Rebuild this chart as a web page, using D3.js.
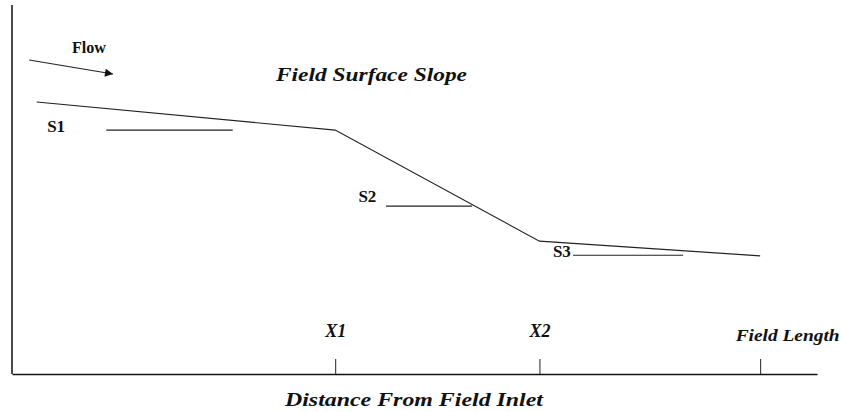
<!DOCTYPE html>
<html>
<head>
<meta charset="utf-8">
<script src="https://cdn.jsdelivr.net/npm/d3@7"></script>
<style>
  html, body { margin: 0; padding: 0; background: #fff; }
  svg { display: block; }
</style>
</head>
<body>
<script>
// ---- data (distance units along field, elevation units) ----
const profileDistance = [3.3, 43.2, 70.5, 100];
const profileElevation = [73.7, 66.1, 36.0, 32.0];

const slopeLabels = ["S1", "S2", "S3"];
const slopeStart = [12.6, 50.0, 75.0];
const slopeEnd = [29.5, 61.5, 89.7];
const slopeElevation = [66.1, 45.5, 32.2];
const slopeLabelAt = [4.7, 46.3, 72.3];
const slopeLabelElevation = [65.6, 46.5, 31.7];

const tickLabels = ["X1", "X2", "Field Length"];
const tickValues = [43.2, 70.5, 100];

const flowDistance = [2.3, 13.5];
const flowElevation = [85.1, 81.3];

const titleText = "Field Surface Slope";
const xTitleText = "Distance From Field Inlet";
const flowText = "Flow";

const SERIF = "'Liberation Serif', 'Times New Roman', Tinos, 'DejaVu Serif', serif";

// ---- layout ----
const W = 841, H = 412;
const svg = d3.select("body").append("svg").attr("width", W).attr("height", H);

const x = d3.scaleLinear().domain([0, 107.6]).range([12, 817]);
const y = d3.scaleLinear().domain([0, 100]).range([374, 5]);

svg.append("defs").append("marker")
  .attr("id", "arrow").attr("viewBox", "0 0 10 10")
  .attr("refX", 10).attr("refY", 5)
  .attr("markerWidth", 12).attr("markerHeight", 8)
  .attr("markerUnits", "userSpaceOnUse")
  .attr("orient", "auto")
  .append("path").attr("d", "M0,0L10,5L0,10Z").attr("fill", "#111");

// y axis line
svg.append("line")
  .attr("x1", x(0)).attr("x2", x(0))
  .attr("y1", y(100)).attr("y2", y(0))
  .attr("stroke", "#111").attr("stroke-width", 1.5);

// x axis (ticks pointing up, labels above)
const xAxis = d3.axisTop(x)
  .tickValues(tickValues)
  .tickFormat((d, i) => tickLabels[i])
  .tickSizeInner(15).tickSizeOuter(0).tickPadding(22);

const gx = svg.append("g").attr("transform", `translate(0,${y(0)})`).call(xAxis);
gx.attr("font-family", null);
gx.select(".domain").attr("stroke", "#111").attr("stroke-width", 1.5);
gx.selectAll(".tick line").attr("stroke", "#222");
gx.selectAll(".tick text")
  .style("font-family", SERIF)
  .style("font-weight", "bold").style("font-style", "italic")
  .style("font-size", "18px").attr("fill", "#111");
gx.selectAll(".tick text").filter((d, i) => i === 2)
  .style("font-size", "16px")
  .attr("text-anchor", "start").attr("x", -25).attr("dy", "0.25em")
  .attr("textLength", 104).attr("lengthAdjust", "spacingAndGlyphs");

// profile line
const line = d3.line().x(d => x(d[0])).y(d => y(d[1]));
svg.append("path")
  .datum(profileDistance.map((d, i) => [d, profileElevation[i]]))
  .attr("d", line).attr("fill", "none")
  .attr("stroke", "#222").attr("stroke-width", 1.1);

// slope reference segments
svg.selectAll("line.slope").data(slopeLabels).join("line")
  .attr("class", "slope")
  .attr("x1", (d, i) => x(slopeStart[i])).attr("x2", (d, i) => x(slopeEnd[i]))
  .attr("y1", (d, i) => y(slopeElevation[i])).attr("y2", (d, i) => y(slopeElevation[i]))
  .attr("stroke", "#222").attr("stroke-width", 1.1);

svg.selectAll("text.slope").data(slopeLabels).join("text")
  .attr("class", "slope")
  .attr("x", (d, i) => x(slopeLabelAt[i]))
  .attr("y", (d, i) => y(slopeLabelElevation[i]))
  .style("font-family", SERIF)
  .style("font-weight", "bold").style("font-size", "17px")
  .attr("fill", "#111")
  .text(d => d);

// flow arrow
svg.append("line")
  .attr("x1", x(flowDistance[0])).attr("y1", y(flowElevation[0]))
  .attr("x2", x(flowDistance[1])).attr("y2", y(flowElevation[1]))
  .attr("stroke", "#222").attr("stroke-width", 1.1)
  .attr("marker-end", "url(#arrow)");

svg.append("text")
  .attr("x", 72).attr("y", 53)
  .style("font-family", SERIF)
  .style("font-weight", "bold").style("font-size", "16px")
  .attr("fill", "#111")
  .attr("textLength", 34).attr("lengthAdjust", "spacingAndGlyphs")
  .text(flowText);

// title
svg.append("text")
  .attr("x", 276).attr("y", 81)
  .style("font-family", SERIF)
  .style("font-weight", "bold").style("font-style", "italic")
  .style("font-size", "19px")
  .attr("fill", "#111")
  .attr("textLength", 191).attr("lengthAdjust", "spacingAndGlyphs")
  .text(titleText);

// x axis title
svg.append("text")
  .attr("x", 285).attr("y", 406)
  .style("font-family", SERIF)
  .style("font-weight", "bold").style("font-style", "italic")
  .style("font-size", "19px")
  .attr("fill", "#111")
  .attr("textLength", 258).attr("lengthAdjust", "spacingAndGlyphs")
  .text(xTitleText);
</script>
</body>
</html>
